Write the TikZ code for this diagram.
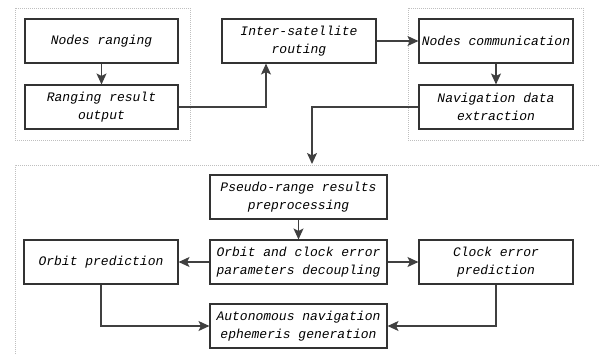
\documentclass[tikz,border=0pt]{standalone}
\usepackage{fontspec}
\setmonofont{Liberation Mono}
\usetikzlibrary{arrows.meta}
\begin{document}
\begin{tikzpicture}[x=1pt,y=-1pt,
  box/.style={draw=black!80, line width=1.1pt, fill=white, align=center, inner sep=0pt,
    font=\fontsize{13}{18}\selectfont\ttfamily\itshape, text=black},
  grp/.style={draw=black!25, line width=0.6pt, dash pattern=on 1pt off 1pt},
  arr/.style={draw=black!75, line width=1.3pt, -{Stealth[length=11pt,width=10pt,inset=2.5pt]}}]
\useasboundingbox (0,0) rectangle (599,354);
\draw[grp] (15,8) rectangle (190,140);
\draw[grp] (408,8) rectangle (583,140);
\draw[grp] (15,360) -- (15,165) -- (610,165);
\node[box, minimum width=153pt, minimum height=44pt] (nr) at (101.5,41) {Nodes ranging};
\node[box, minimum width=153pt, minimum height=44pt] (ro) at (101.5,107) {Ranging result\\output};
\node[box, minimum width=154pt, minimum height=44pt] (isr) at (299,41) {Inter-satellite\\routing};
\node[box, minimum width=154pt, minimum height=44pt] (nc) at (496,41) {Nodes communication};
\node[box, minimum width=154pt, minimum height=44pt] (nde) at (496,107) {Navigation data\\extraction};
\node[box, minimum width=177pt, minimum height=44pt] (pr) at (298.5,197) {Pseudo-range results\\preprocessing};
\node[box, minimum width=177pt, minimum height=44pt] (dec) at (298.5,262) {Orbit and clock error\\parameters decoupling};
\node[box, minimum width=154pt, minimum height=44pt] (op) at (101,262) {Orbit prediction};
\node[box, minimum width=154pt, minimum height=44pt] (ce) at (496,262) {Clock error\\prediction};
\node[box, minimum width=177pt, minimum height=44pt] (aeg) at (298.5,326) {Autonomous navigation\\ephemeris generation};
\coordinate (k1) at (266,107);
\coordinate (k2) at (312,107);
\coordinate (g3) at (312,164);
\draw[arr] (nr) -- (ro);
\draw[arr] (ro.east) -- (k1) -- (k1 |- isr.south);
\draw[arr] (isr) -- (nc);
\draw[arr] (nc) -- (nde);
\draw[arr] (nde.west) -- (k2) -- (g3);
\draw[arr] (pr) -- (dec);
\draw[arr] (dec) -- (op);
\draw[arr] (dec) -- (ce);
\draw[arr] (op.south) |- (aeg.west);
\draw[arr] (ce.south) |- (aeg.east);
\end{tikzpicture}
\end{document}
